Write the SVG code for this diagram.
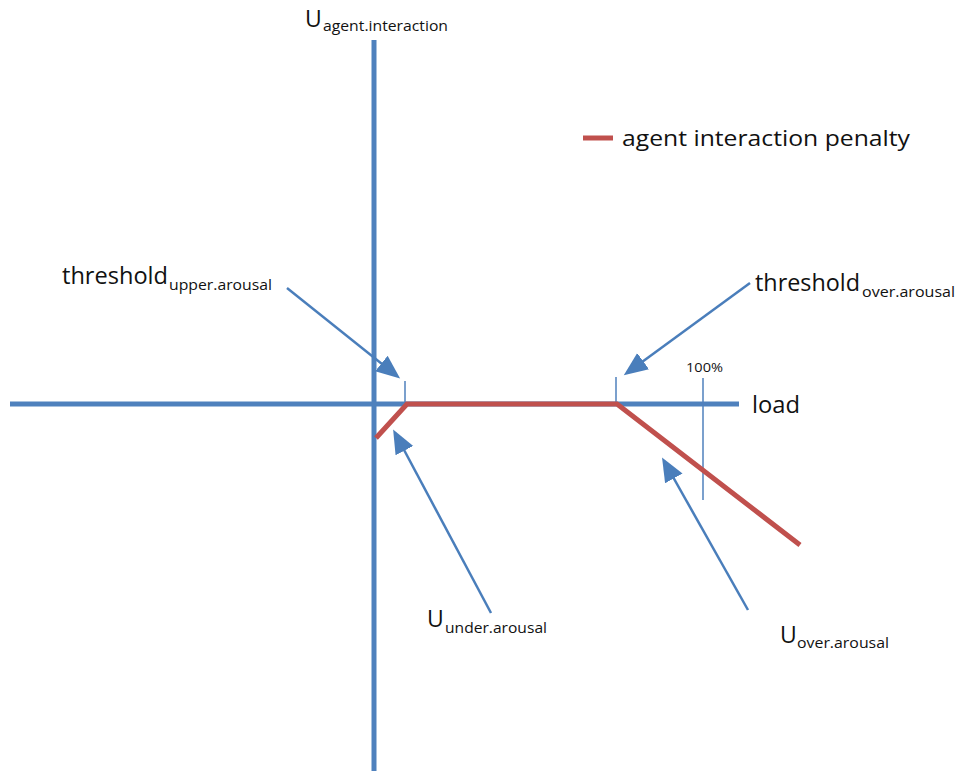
<svg xmlns="http://www.w3.org/2000/svg" width="960" height="771" viewBox="0 0 960 771">
<style>
  .axis { stroke: #4F81BD; stroke-width: 5; fill: none; }
  .tick { stroke: #4F81BD; stroke-width: 1.5; fill: none; }
  .pen { stroke: #C0504D; stroke-width: 5; fill: none; stroke-linejoin: miter; }
  .arr { stroke: #4A7EBB; stroke-width: 2.5; fill: none; marker-end: url(#ah); }
  text { font-family: "Open Sans", Lato, "Liberation Sans", sans-serif; fill: #111; }
  .big { font-size: 23px; }
  .sub { font-size: 15px; }
</style>
<defs>
  <marker id="ah" markerUnits="userSpaceOnUse" markerWidth="26" markerHeight="24" viewBox="0 0 26 24" refX="20" refY="12" orient="auto">
    <path d="M0,2 L24,12 L0,22 Z" fill="#4A7EBB"/>
  </marker>
</defs>
<g id="axes">
  <line class="axis" x1="374" y1="40" x2="374" y2="771"/>
  <line class="axis" x1="10" y1="404" x2="739" y2="404"/>
</g>
<g id="ticks">
  <line class="tick" x1="405" y1="381" x2="405" y2="404"/>
  <line class="tick" x1="616" y1="377" x2="616" y2="404"/>
  <line class="tick" x1="703" y1="378" x2="703" y2="500"/>
</g>
<g id="penalty-curve">
  <polyline class="pen" points="376,438 407,404 617,404 800,545"/>
</g>
<g id="legend">
  <line class="pen" x1="583" y1="138" x2="613" y2="138"/>
  <text x="622" y="146" style="font-size:22px" textLength="288" lengthAdjust="spacingAndGlyphs">agent interaction penalty</text>
</g>
<g id="connectors">
  <line class="arr" x1="287" y1="288" x2="397" y2="376"/>
  <line class="arr" x1="750" y1="283" x2="627" y2="373"/>
  <line class="arr" x1="491" y1="613" x2="395" y2="433"/>
  <line class="arr" x1="748" y1="610" x2="664" y2="461"/>
</g>
<g id="label-y-axis">
  <text x="305" y="27" class="big">U</text>
  <text x="323" y="31" class="sub" textLength="125" lengthAdjust="spacingAndGlyphs">agent.interaction</text>
</g>
<g id="label-threshold-upper">
  <text x="62" y="284" class="big" textLength="106" lengthAdjust="spacingAndGlyphs">threshold</text>
  <text x="169" y="290" class="sub" textLength="103" lengthAdjust="spacingAndGlyphs">upper.arousal</text>
</g>
<g id="label-threshold-over">
  <text x="755" y="291" class="big" textLength="105" lengthAdjust="spacingAndGlyphs">threshold</text>
  <text x="862" y="297" class="sub" textLength="93" lengthAdjust="spacingAndGlyphs">over.arousal</text>
</g>
<g id="label-100">
  <text x="686" y="372" style="font-size:13px" textLength="37" lengthAdjust="spacingAndGlyphs">100%</text>
</g>
<g id="label-load">
  <text x="752" y="413" class="big" textLength="48" lengthAdjust="spacingAndGlyphs">load</text>
</g>
<g id="label-u-under">
  <text x="427" y="627" class="big">U</text>
  <text x="445" y="633" class="sub" textLength="102" lengthAdjust="spacingAndGlyphs">under.arousal</text>
</g>
<g id="label-u-over">
  <text x="780" y="643" class="big">U</text>
  <text x="797" y="648" class="sub" textLength="92" lengthAdjust="spacingAndGlyphs">over.arousal</text>
</g>
</svg>
